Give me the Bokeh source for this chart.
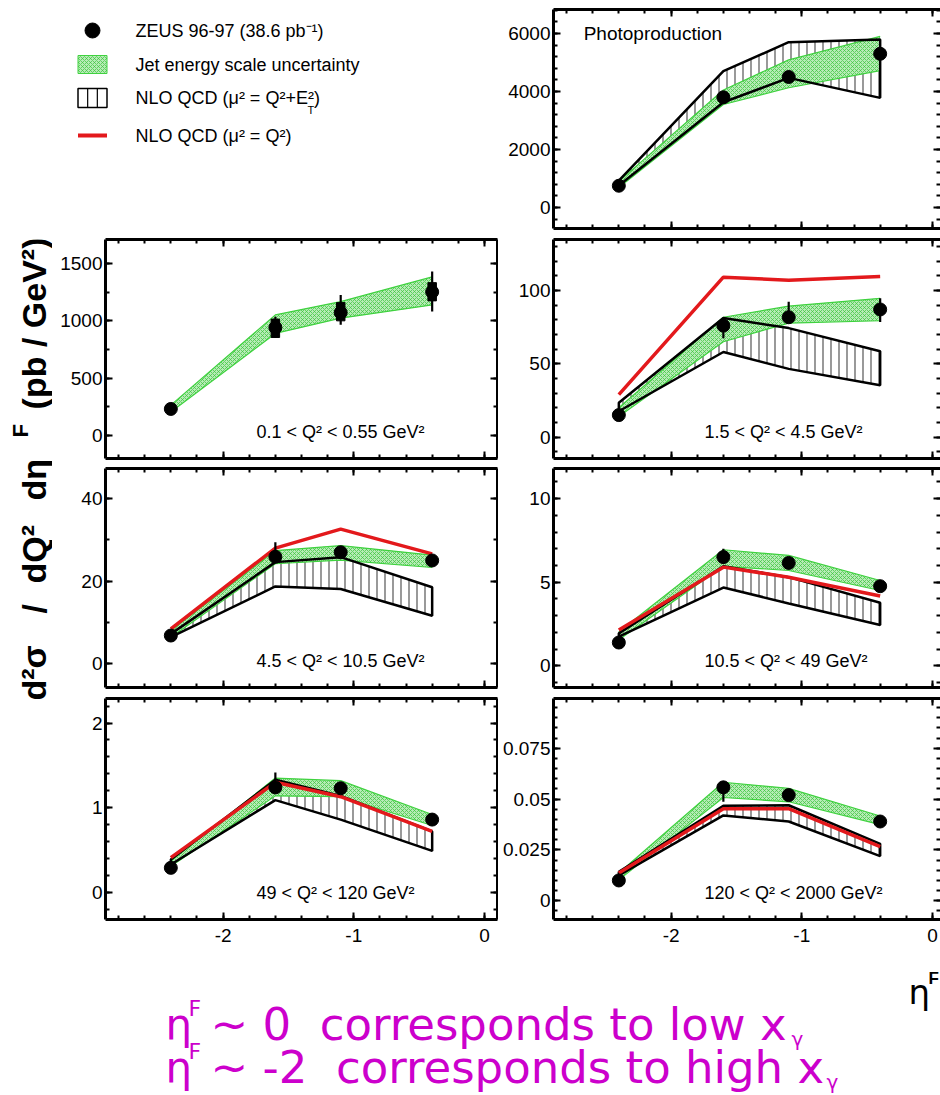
import math
from bokeh.plotting import figure
from bokeh.models import Range1d, LinearAxis, SingleIntervalTicker, CustomJSTickFormatter, Label
from bokeh.layouts import row, column
from bokeh.embed import file_html
from bokeh.resources import INLINE

# ---------------- data ----------------
ETA = [-2.4, -1.6, -1.1, -0.4]

# Photoproduction
PHP_Y = [750, 3800, 4500, 5300]
PHP_ERR_LO = [700, 3720, 4420, 5200]
PHP_ERR_HI = [800, 3880, 4580, 5400]
PHP_JES_LO = [690, 3550, 4130, 4720]
PHP_JES_HI = [900, 4050, 5090, 5900]
PHP_NLO_LO = [760, 3630, 4470, 3780]
PHP_NLO_HI = [930, 4700, 5700, 5790]

# 0.1 < Q2 < 0.55
Q1_Y = [232, 942, 1072, 1252]
Q1_ERR_LO = [215, 850, 965, 1081]
Q1_ERR_HI = [250, 1035, 1226, 1429]
Q1_SYS_LO = [225, 855, 1000, 1174]
Q1_SYS_HI = [240, 1015, 1159, 1333]
Q1_JES_LO = [205, 890, 1023, 1139]
Q1_JES_HI = [265, 1052, 1168, 1383]

# 1.5 < Q2 < 4.5
Q2_Y = [15, 76, 81.7, 87]
Q2_ERR_LO = [14, 67.3, 79, 78.4]
Q2_ERR_HI = [16, 81.2, 92.3, 94.6]
Q2_JES_LO = [14, 65, 77.7, 79.3]
Q2_JES_HI = [20, 81.7, 89.3, 94.6]
Q2_NLO_LO = [17.6, 58, 46.5, 35.4]
Q2_NLO_HI = [23.4, 81.2, 74.3, 58.5]
Q2_NLO_RED = [29, 109, 107, 109.4]

# 4.5 < Q2 < 10.5
Q3_Y = [6.8, 25.9, 27, 25]
Q3_ERR_LO = [6.3, 24.5, 26.2, 24.4]
Q3_ERR_HI = [7.3, 29.4, 27.8, 25.6]
Q3_JES_LO = [6.4, 24.2, 25.1, 23.3]
Q3_JES_HI = [8, 27.4, 28.6, 26.3]
Q3_NLO_LO = [6.4, 18.7, 18.1, 11.6]
Q3_NLO_HI = [7.2, 24.6, 25.8, 18.5]
Q3_NLO_RED = [8.4, 28, 32.6, 26.6]

# 10.5 < Q2 < 49
Q4_Y = [1.39, 6.5, 6.15, 4.76]
Q4_ERR_LO = [1.3, 6.1, 6.0, 4.6]
Q4_ERR_HI = [1.5, 7.0, 6.3, 4.9]
Q4_JES_LO = [1.55, 5.95, 5.7, 4.5]
Q4_JES_HI = [2.04, 6.94, 6.6, 5.1]
Q4_NLO_LO = [1.75, 4.68, 3.73, 2.44]
Q4_NLO_HI = [1.94, 5.95, 5.3, 3.77]
Q4_NLO_RED = [2.14, 5.9, 5.3, 4.17]

# 49 < Q2 < 120
Q5_Y = [0.29, 1.24, 1.23, 0.86]
Q5_ERR_LO = [0.27, 1.2, 1.2, 0.84]
Q5_ERR_HI = [0.31, 1.415, 1.26, 0.88]
Q5_JES_LO = [0.31, 1.14, 1.13, 0.79]
Q5_JES_HI = [0.37, 1.35, 1.32, 0.92]
Q5_NLO_LO = [0.33, 1.09, 0.86, 0.49]
Q5_NLO_HI = [0.39, 1.33, 1.14, 0.72]
Q5_NLO_RED = [0.41, 1.30, 1.13, 0.72]

# 120 < Q2 < 2000
Q6_Y = [0.010, 0.0558, 0.052, 0.039]
Q6_ERR_LO = [0.009, 0.0487, 0.051, 0.038]
Q6_ERR_HI = [0.011, 0.058, 0.053, 0.040]
Q6_JES_LO = [0.0103, 0.0508, 0.0487, 0.0375]
Q6_JES_HI = [0.0137, 0.0583, 0.0553, 0.0417]
Q6_NLO_LO = [0.0125, 0.042, 0.039, 0.022]
Q6_NLO_HI = [0.0142, 0.0467, 0.047, 0.028]
Q6_NLO_RED = [0.0137, 0.0453, 0.0453, 0.0267]

PANEL_LABELS = ["Photoproduction", "0.1 < Q² < 0.55 GeV²", "1.5 < Q² < 4.5 GeV²",
                "4.5 < Q² < 10.5 GeV²", "10.5 < Q² < 49 GeV²",
                "49 < Q² < 120 GeV²", "120 < Q² < 2000 GeV²"]
LEGEND_TEXTS = ["ZEUS 96-97 (38.6 pb⁻¹)", "Jet energy scale uncertainty",
                "NLO QCD (μ² = Q²+E²)", "NLO QCD (μ² = Q²)"]
X_TICK_INTERVAL = 1

# ---------------- style ----------------
SANS = "'Liberation Sans', Arial, sans-serif"
TICK_FONT = "19px"
GREEN_FILL = "#b6ecb6"
GREEN_HATCH = "#3cc43c"
GREEN_EDGE = "#3fd23f"
RED = "#e3191c"
MAGENTA = "#cc00cc"

# row geometry (figure heights and top/bottom borders)
ROW_H = [233, 230, 229, 268]
ROW_TOP = [9, 6, 5, 6]
ROW_BOT = [5, 5, 5, 41]
TITLE_W = 52
LEFT_W, LEFT_B, LEFT_R = 446, 53, 1
RIGHT_W, RIGHT_B, RIGHT_R = 442, 55, 0
X_START = -2.9
PX_PER_UNIT = 392 / 3.0


def style_axis(ax, show_labels, line=True, standoff=3):
    ax.axis_line_width = 3
    ax.axis_line_color = "black" if line else None
    ax.major_tick_in = 7
    ax.major_tick_out = 0
    ax.minor_tick_in = 4
    ax.minor_tick_out = 0
    ax.major_tick_line_width = 2
    ax.minor_tick_line_width = 2
    if show_labels:
        ax.major_label_text_font = SANS
        ax.major_label_text_font_size = TICK_FONT
        ax.major_label_text_color = "black"
        ax.major_label_standoff = standoff
    else:
        ax.major_label_text_font_size = "0px"
        ax.major_label_standoff = 0
        ax.formatter = CustomJSTickFormatter(code="return '';")


FMT = "return String(Math.round(tick*10000)/10000);"


def make_panel(col, r, yr, ytick, yminor, label, label_xy, y, err_lo, err_hi,
               jes_lo, jes_hi, nlo_lo=None, nlo_hi=None, red=None,
               sys_lo=None, sys_hi=None, label_size="18px"):
    if col == 0:
        w, left, right = LEFT_W, LEFT_B, LEFT_R
    else:
        w, left, right = RIGHT_W, RIGHT_B, RIGHT_R
    frame_w = w - left - right
    x_end = X_START + frame_w / PX_PER_UNIT
    p = figure(width=w, height=ROW_H[r], x_range=Range1d(X_START, x_end),
               y_range=Range1d(*yr), output_backend="svg", toolbar_location=None,
               x_axis_location=None, y_axis_location=None,
               min_border_left=left, min_border_right=right,
               min_border_top=ROW_TOP[r], min_border_bottom=ROW_BOT[r])
    p.outline_line_color = None
    p.grid.visible = False

    xt = SingleIntervalTicker(interval=X_TICK_INTERVAL, num_minor_ticks=5)
    yt = SingleIntervalTicker(interval=ytick, num_minor_ticks=yminor)
    bottom = LinearAxis(ticker=xt, formatter=CustomJSTickFormatter(code=FMT))
    style_axis(bottom, r == 3, standoff=9)
    top = LinearAxis(ticker=xt)
    style_axis(top, False)
    lefta = LinearAxis(ticker=yt, formatter=CustomJSTickFormatter(code=FMT))
    style_axis(lefta, True, standoff=3)
    righta = LinearAxis(ticker=yt)
    style_axis(righta, False, line=(col == 0))
    p.add_layout(bottom, "below")
    p.add_layout(top, "above")
    p.add_layout(lefta, "left")
    p.add_layout(righta, "right")

    # NLO (mu^2 = Q^2 + ET^2) hatched band
    if nlo_lo is not None:
        p.varea(x=ETA, y1=nlo_lo, y2=nlo_hi, fill_color=None,
                hatch_pattern="vertical_line", hatch_color="#555555",
                hatch_scale=8, hatch_weight=1.2)
    # jet energy scale band
    p.varea(x=ETA, y1=jes_lo, y2=jes_hi, fill_color=GREEN_FILL,
            hatch_pattern="diagonal_cross", hatch_color=GREEN_HATCH,
            hatch_scale=4, hatch_weight=0.7)
    p.line(ETA, jes_lo, line_color=GREEN_EDGE, line_width=1.2)
    p.line(ETA, jes_hi, line_color=GREEN_EDGE, line_width=1.2)
    if nlo_lo is not None:
        p.patch(ETA + ETA[::-1], nlo_hi + nlo_lo[::-1], fill_color=None,
                line_color="black", line_width=2.5)
    if red is not None:
        p.line(ETA, red, line_color=RED, line_width=3.5)
    p.segment(ETA, err_lo, ETA, err_hi, line_color="black", line_width=2.2)
    if sys_lo is not None:
        p.vbar(x=ETA, bottom=sys_lo, top=sys_hi, width=0.065, color="black")
    p.scatter(ETA, y, size=13, color="black")

    lx = X_START + label_xy[0] * 392 / PX_PER_UNIT
    ly = yr[0] + label_xy[1] * (yr[1] - yr[0])
    p.add_layout(Label(x=lx, y=ly, text=label, text_font=SANS,
                       text_font_size=label_size, text_baseline="middle",
                       text_color="black"))
    return p


LBL = (0.385, 0.12)
php = make_panel(1, 0, (-724, 6827), 2000, 5, PANEL_LABELS[0], (0.077, 0.89),
                 PHP_Y, PHP_ERR_LO, PHP_ERR_HI, PHP_JES_LO, PHP_JES_HI,
                 PHP_NLO_LO, PHP_NLO_HI, label_size="19px")
q1 = make_panel(0, 1, (-200, 1709), 500, 2, PANEL_LABELS[1], LBL,
                Q1_Y, Q1_ERR_LO, Q1_ERR_HI, Q1_JES_LO, Q1_JES_HI,
                sys_lo=Q1_SYS_LO, sys_hi=Q1_SYS_HI)
q2 = make_panel(1, 1, (-14.6, 134.7), 50, 5, PANEL_LABELS[2], LBL,
                Q2_Y, Q2_ERR_LO, Q2_ERR_HI, Q2_JES_LO, Q2_JES_HI,
                Q2_NLO_LO, Q2_NLO_HI, Q2_NLO_RED)
q3 = make_panel(0, 2, (-5.8, 47.3), 20, 2, PANEL_LABELS[3], LBL,
                Q3_Y, Q3_ERR_LO, Q3_ERR_HI, Q3_JES_LO, Q3_JES_HI,
                Q3_NLO_LO, Q3_NLO_HI, Q3_NLO_RED)
q4 = make_panel(1, 2, (-1.3, 11.8), 5, 5, PANEL_LABELS[4], LBL,
                Q4_Y, Q4_ERR_LO, Q4_ERR_HI, Q4_JES_LO, Q4_JES_HI,
                Q4_NLO_LO, Q4_NLO_HI, Q4_NLO_RED)
q5 = make_panel(0, 3, (-0.32, 2.29), 1, 5, PANEL_LABELS[5], LBL,
                Q5_Y, Q5_ERR_LO, Q5_ERR_HI, Q5_JES_LO, Q5_JES_HI,
                Q5_NLO_LO, Q5_NLO_HI, Q5_NLO_RED)
q6 = make_panel(1, 3, (-0.0092, 0.0995), 0.025, 5, PANEL_LABELS[6], LBL,
                Q6_Y, Q6_ERR_LO, Q6_ERR_HI, Q6_JES_LO, Q6_JES_HI,
                Q6_NLO_LO, Q6_NLO_HI, Q6_NLO_RED)


def blank(w, h, xr, yr, top=0, bottom=0):
    f = figure(width=w, height=h, x_range=Range1d(*xr), y_range=Range1d(*yr),
               output_backend="svg", toolbar_location=None,
               min_border_left=0, min_border_right=0,
               min_border_top=top, min_border_bottom=bottom,
               x_axis_location=None, y_axis_location=None)
    f.outline_line_color = None
    f.grid.visible = False
    return f


# ---------------- legend (top-left), page coordinates ----------------
LEG_W = 940 - RIGHT_W
leg = blank(LEG_W, ROW_H[0], (0, LEG_W), (ROW_H[0] - ROW_BOT[0], ROW_TOP[0]),
            top=ROW_TOP[0], bottom=ROW_BOT[0])
KEY_X = 92
KEY_W = 29
LEG_Y = [30, 64, 97.5, 135]
TEXT_X = 135
leg.scatter([KEY_X], [LEG_Y[0]], size=15, color="black")
leg.rect(x=[KEY_X], y=[LEG_Y[1]], width=KEY_W, height=18, fill_color=GREEN_FILL,
         hatch_pattern="diagonal_cross", hatch_color=GREEN_HATCH, hatch_scale=4,
         hatch_weight=0.7, line_color=GREEN_EDGE, line_width=1)
leg.rect(x=[KEY_X], y=[LEG_Y[2]], width=KEY_W, height=19, fill_color=None,
         line_color="black", line_width=1.5)
leg.segment(x0=[KEY_X - KEY_W / 6, KEY_X + KEY_W / 6], y0=[LEG_Y[2] - 9.5] * 2,
            x1=[KEY_X - KEY_W / 6, KEY_X + KEY_W / 6], y1=[LEG_Y[2] + 9.5] * 2,
            line_color="black", line_width=1.2)
leg.segment(x0=[KEY_X - KEY_W / 2], y0=[LEG_Y[3]], x1=[KEY_X + KEY_W / 2], y1=[LEG_Y[3]],
            line_color=RED, line_width=4)
for yy, t in zip(LEG_Y, LEGEND_TEXTS):
    leg.add_layout(Label(x=TEXT_X, y=yy, text=t, text_font=SANS, text_font_size="18px",
                         text_baseline="middle", text_color="black"))
leg.add_layout(Label(x=307, y=LEG_Y[2] + 12, text="T", text_font=SANS,
                     text_font_size="11px", text_baseline="middle", text_color="black"))

# ---------------- y title (page coordinates) ----------------
TB_H = sum(ROW_H[1:])
tit = blank(TITLE_W, TB_H, (0, TITLE_W),
            (ROW_H[0] + TB_H - ROW_BOT[3], ROW_H[0] + ROW_TOP[1]),
            top=ROW_TOP[1], bottom=ROW_BOT[3])
TITLE_PIECES = [("d²σ", 700, "left"), ("/", 613, "left"), ("dQ²", 583, "left"),
                ("dη", 500, "left"), ("(pb / GeV²)", 237, "right")]
for txt, yy, al in TITLE_PIECES:
    tit.add_layout(Label(x=33, y=yy, text=txt, angle=math.pi / 2, text_font=SANS,
                         text_font_style="bold", text_font_size="34px",
                         text_align=al, text_baseline="middle", text_color="black"))
tit.add_layout(Label(x=20, y=437, text="F", angle=math.pi / 2, text_font=SANS,
                     text_font_style="bold", text_font_size="22px",
                     text_align="left", text_baseline="middle", text_color="black"))

# ---------------- bottom text (page coordinates) ----------------
BOT_H = 1095 - sum(ROW_H)
bot = blank(940, BOT_H, (0, 940), (1095, 1095 - BOT_H))
MFONT = "'DejaVu Sans', sans-serif"
NB = "\u00a0"
LINES = ["~" + NB + "0" + NB + NB + "corresponds to low x",
         "~ -2" + NB + NB + "corresponds to high x"]
MID = [1024, 1067]
GAMMA_X = [791, 826]
for mid, txt, gx in zip(MID, LINES, GAMMA_X):
    bot.add_layout(Label(x=165, y=mid, text="η", text_font=MFONT, text_font_size="42px",
                         text_baseline="middle", text_color=MAGENTA))
    bot.add_layout(Label(x=188, y=mid - 16, text="F", text_font=MFONT, text_font_size="22px",
                         text_baseline="middle", text_color=MAGENTA))
    bot.add_layout(Label(x=210, y=mid, text=txt, text_font=MFONT, text_font_size="45px",
                         text_baseline="middle", text_color=MAGENTA))
    bot.add_layout(Label(x=gx, y=mid + 14, text="γ", text_font=MFONT, text_font_size="20px",
                         text_baseline="middle", text_color=MAGENTA))
bot.add_layout(Label(x=908, y=991, text="η", text_font=MFONT, text_font_size="34px",
                     text_baseline="middle", text_color="black"))
bot.add_layout(Label(x=928, y=978, text="F", text_font=SANS, text_font_style="bold",
                     text_font_size="17px", text_baseline="middle", text_color="black"))

row_a = row(leg, php, spacing=0)
left_col = column(q1, q3, q5, spacing=0)
right_col = column(q2, q4, q6, spacing=0)
row_b = row(tit, left_col, right_col, spacing=0)
layout = column(row_a, row_b, bot, spacing=0)

open("out.html", "w").write(file_html(layout, INLINE))
